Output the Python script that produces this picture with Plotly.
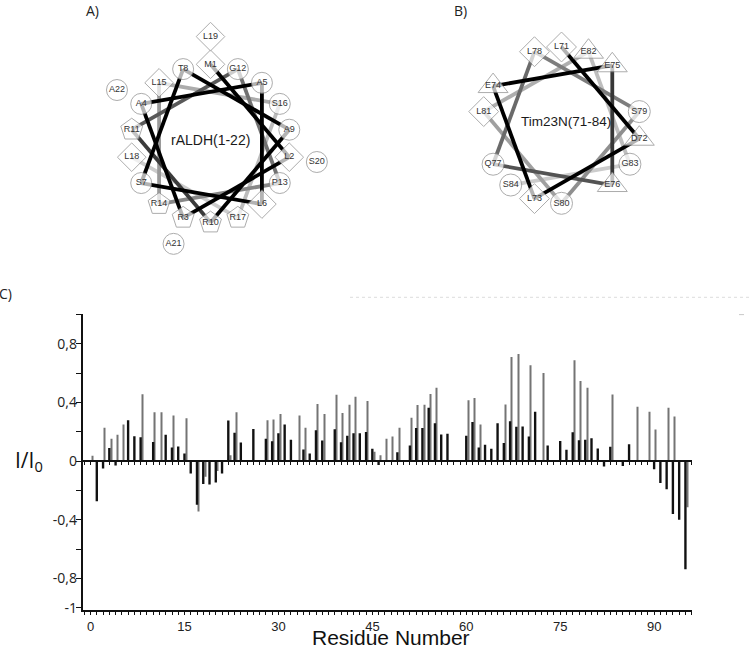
import math
import plotly.graph_objects as go

# ---------------- data: panel C ----------------
residues = list(range(96))
black_vals = [None, -0.274, -0.05, 0.09, -0.03, None, 0.279, 0.169, 0.162, None,
              0.13, None, 0.18, 0.092, 0.10, 0.052, -0.085, -0.297, -0.156, -0.16,
              -0.145, -0.085, 0.276, 0.193, 0.126, None, 0.218, None, 0.153, 0.136,
              0.19, 0.25, 0.146, None, 0.079, 0.052, 0.21, 0.141, None, 0.217,
              0.128, 0.173, 0.19, 0.19, 0.199, 0.084, -0.027, None, None, 0.06,
              None, 0.106, 0.226, 0.226, 0.364, 0.258, 0.182, 0.186, None, None,
              0.173, 0.267, 0.093, 0.112, 0.085, 0.258, 0.124, 0.272, 0.234, 0.236,
              0.167, 0.336, None, 0.106, None, 0.137, 0.077, 0.196, 0.142, 0.146,
              0.155, 0.086, -0.036, 0.097, None, -0.034, 0.115, None, None, None,
              -0.056, -0.149, -0.191, -0.36, -0.399, -0.736]
gray_vals = [0.036, None, 0.227, 0.153, 0.18, 0.25, None, None, 0.456, None,
             0.333, 0.333, None, 0.31, None, 0.292, None, -0.343, -0.106, None,
             -0.068, None, 0.04, 0.333, None, None, None, None, 0.279, 0.283,
             0.321, None, None, 0.31, 0.227, None, 0.389, 0.321, None, 0.452,
             0.328, 0.384, 0.438, None, 0.409, 0.063, 0.04, 0.153, 0.168, 0.227,
             None, 0.295, 0.383, 0.384, 0.457, 0.5, None, None, None, None,
             0.414, 0.43, 0.25, None, None, None, 0.385, 0.709, 0.73, None,
             0.653, None, 0.6, None, None, None, None, 0.687, 0.545, 0.5,
             None, None, None, 0.453, None, None, None, 0.37, None, 0.336,
             0.216, None, 0.363, 0.304, None, -0.315]
x_tick_vals = [0, 15, 30, 45, 60, 75, 90]
y_tick_vals = [-1.0, -0.8, -0.4, 0.0, 0.4, 0.8]
y_tick_text = ["-1", "-0,8", "-0,4", "0", "0,4", "0,8"]

# ---------------- data: helical wheels ----------------
wheelA_labels = ["M1", "L2", "R3", "A4", "A5", "L6", "S7", "T8", "A9", "R10", "R11",
                 "G12", "P13", "R14", "L15", "S16", "R17", "L18", "L19", "S20", "A21", "A22"]
wheelA_title = "rALDH(1-22)"
wheelB_labels = ["L71", "D72", "L73", "E74", "E75", "E76", "Q77", "L78", "S79", "S80",
                 "L81", "E82", "G83", "S84"]
wheelB_title = "Tim23N(71-84)"

W, H = 749, 657
FONT = "Liberation Sans"

fig = go.Figure()

# ---------------- panel C bars ----------------
fig.add_trace(go.Bar(x=residues, y=gray_vals, width=0.17, offset=0.2,
                     marker=dict(color="#747474", line=dict(width=0)),
                     showlegend=False, hoverinfo="skip"))
fig.add_trace(go.Bar(x=residues, y=black_vals, width=0.38, offset=-0.2,
                     marker=dict(color="#111111", line=dict(width=0)),
                     showlegend=False, hoverinfo="skip"))

px_per_unit = 6.262
x0_px, x1_px, zero_px = 82.5, 692.0, 90.6
xr = [(x0_px - zero_px) / px_per_unit, (x1_px - zero_px) / px_per_unit]
ytop_px, ybot_px = 317.7, 616.8
yr = [-1.016, 1.0]
ydom = [1 - ybot_px / H, 1 - ytop_px / H]
zero_pos = ydom[0] + (0 - yr[0]) / (yr[1] - yr[0]) * (ydom[1] - ydom[0])

# invisible helper so the zero-line axis gets drawn
fig.add_trace(go.Scatter(x=[0], y=[0], xaxis="x2", yaxis="y", mode="markers",
                         marker=dict(opacity=0), showlegend=False, hoverinfo="skip"))

# ---------------- helical wheels ----------------
shape_of = {"L": "diamond", "M": "diamond", "R": "pentagon", "K": "pentagon",
            "E": "triangle-up", "D": "triangle-up"}
size_of = {"diamond": 22, "pentagon": 23, "triangle-up": 25, "circle": 21}


def wheel_positions(n, n_inner, cx, cy, r_in, r_out):
    pts = []
    for k in range(n):
        th = math.radians(90 - 100 * k)
        r = r_in if k < n_inner else r_out
        pts.append((cx + r * math.cos(th), cy - r * math.sin(th)))
    return pts


def line_colors(n_lines, n_black):
    cols = []
    for k in range(n_lines):
        if k < n_black:
            lv = 0.0
        else:
            t = (k - n_black + 1) / (n_lines - n_black)
            lv = 0.8 * t ** 0.6
        g = int(round(lv * 255))
        cols.append(f"rgb({g},{g},{g})")
    return cols


def draw_wheel(labels, n_inner, cx, cy, r_in, r_out, n_black, title, tx, ty, tsize, bump):
    pts = wheel_positions(len(labels), n_inner, cx, cy, r_in, r_out)
    n_lines = n_inner - 1
    cols = line_colors(n_lines, n_black)
    for k in reversed(range(n_lines)):
        (xa, ya), (xb, yb) = pts[k], pts[k + 1]
        fig.add_trace(go.Scatter(x=[xa, xb], y=[ya, yb], xaxis="x3", yaxis="y3",
                                 mode="lines", line=dict(color=cols[k], width=3.8),
                                 showlegend=False, hoverinfo="skip"))
    syms = [shape_of.get(l[0], "circle") for l in labels]
    sizes = [size_of[s] + bump for s in syms]
    fig.add_trace(go.Scatter(
        x=[p[0] for p in pts], y=[p[1] for p in pts], xaxis="x3", yaxis="y3",
        mode="markers+text", text=labels, textposition="middle center",
        textfont=dict(family=FONT, size=9, color="#333333"),
        marker=dict(symbol=syms, size=sizes, color="white",
                    line=dict(color="#8a8a8a", width=1)),
        showlegend=False, hoverinfo="skip"))
    fig.add_annotation(x=tx, y=ty, xref="x3", yref="y3", text=title, showarrow=False,
                       font=dict(family=FONT, size=tsize, color="#1a1a1a"))


draw_wheel(wheelA_labels, 18, 210.5, 145.0, 80, 108, 9, wheelA_title, 210, 142, 14, 0)
draw_wheel(wheelB_labels, 14, 561.5, 126.5, 79, 79, 4, wheelB_title, 566, 123, 13.5, 1)

# panel letters and axis titles (pixel coordinates on the overlay axes)
for txt, x, y in [("A)", 92, 10.5), ("B)", 460, 10.5), ("C)", 5, 297)]:
    fig.add_annotation(x=x, y=y, xref="x3", yref="y3", text=txt, showarrow=False,
                       font=dict(family="Open Sans", size=14, color="#222"))
fig.add_annotation(x=29, y=466, xref="x3", yref="y3", text="I/I<sub>0</sub>",
                   showarrow=False, font=dict(family="Open Sans", size=21, color="#111"))
fig.add_annotation(x=391, y=644, xref="x3", yref="y3", yanchor="middle",
                   text="Residue Number", showarrow=False,
                   font=dict(family=FONT, size=21, color="#111"))

# faint scan artefacts near panel C header
fig.add_shape(type="line", xref="x3", yref="y3", x0=350, x1=749, y0=300.5, y1=300.5,
              line=dict(color="#dcdcdc", width=1, dash="dot"))
fig.add_shape(type="line", xref="x3", yref="y3", x0=739, x1=744, y0=318, y1=318,
              line=dict(color="#c8c8c8", width=1))

fig.update_layout(
    width=W, height=H, margin=dict(l=0, r=0, t=0, b=0),
    paper_bgcolor="white", plot_bgcolor="rgba(0,0,0,0)",
    barmode="overlay", showlegend=False,
    xaxis=dict(domain=[x0_px / W, x1_px / W], range=xr, tickmode="array",
               tickvals=x_tick_vals, ticks="outside", ticklen=3, tickwidth=1.2,
               tickcolor="#111", showline=True, linecolor="#111", linewidth=1.5,
               showgrid=False, zeroline=False,
               minor=dict(dtick=1, tick0=0, ticks="outside", ticklen=3,
                          tickwidth=1.2, tickcolor="#111", showgrid=False),
               tickfont=dict(family=FONT, size=13, color="#222")),
    xaxis2=dict(overlaying="x", anchor="free", position=zero_pos, range=xr,
                showline=True, linecolor="#111", linewidth=2, ticks="outside",
                ticklen=3, tickwidth=1.2, tickcolor="#111", tickmode="array",
                tickvals=x_tick_vals, showticklabels=False, showgrid=False,
                zeroline=False,
                minor=dict(dtick=1, tick0=0, ticks="outside", ticklen=3,
                           tickwidth=1.2, tickcolor="#111", showgrid=False)),
    yaxis=dict(domain=ydom, range=yr, tickmode="array", tickvals=y_tick_vals,
               ticktext=y_tick_text, ticks="outside", ticklen=5, tickwidth=1.2,
               tickcolor="#111", showline=True, linecolor="#111", linewidth=1.5,
               showgrid=False, zeroline=False, ticklabelstandoff=-4,
               minor=dict(dtick=0.2, tick0=0, ticks="outside", ticklen=5,
                          tickwidth=1.2, tickcolor="#111", showgrid=False),
               tickfont=dict(family="Open Sans", size=14, color="#222")),
    xaxis3=dict(domain=[0, 1], range=[0, W], visible=False, fixedrange=True),
    yaxis3=dict(domain=[0, 1], range=[H, 0], visible=False, fixedrange=True,
                anchor="x3"),
)

fig.write_html("out.html", config={"displayModeBar": False},
               post_script="document.body.style.margin='0';")
